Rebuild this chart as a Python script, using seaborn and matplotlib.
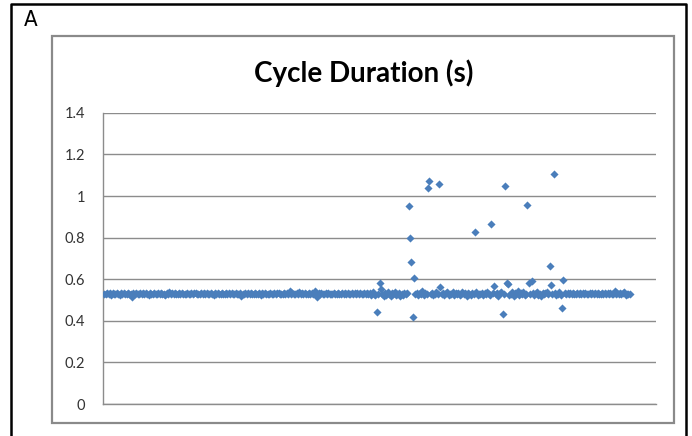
import matplotlib
matplotlib.use("Agg")
import matplotlib.pyplot as plt
import seaborn as sns
import pandas as pd
from matplotlib.patches import Rectangle
from matplotlib.lines import Line2D

# Cycle durations in milliseconds, one per cycle
cycle_ms = [
    531, 527, 534, 529, 532, 526, 535, 530, 528, 533, 531, 525, 536, 529, 532, 530, 527, 534, 531, 528,
    515, 533, 530, 536, 528, 531, 534, 527, 532, 529, 535, 530, 526, 533, 531, 528, 534, 530, 527, 532,
    530, 535, 528, 531, 526, 533, 530, 537, 529, 532, 528, 534, 531, 527, 533, 530, 535, 529, 531, 528,
    533, 530, 527, 534, 529, 532, 536, 528, 531, 530, 534, 527, 532, 529, 535, 531, 528, 533, 530, 526,
    532, 529, 535, 530, 528, 533, 531, 527, 534, 530, 532, 528, 536, 529, 531, 533, 527, 530, 534, 520,
    531, 528, 533, 530, 535, 527, 532, 529, 531, 534, 528, 530, 533, 526, 532, 530, 535, 529, 531, 528,
    534, 530, 527, 533, 529, 532, 536, 528, 531, 530, 533, 527, 534, 530, 541, 529, 532, 528, 531, 534,
    530, 537, 528, 532, 529, 534, 531, 527, 533, 530, 535, 529, 543, 531, 516, 532, 529, 534, 530, 528,
    533, 530, 536, 528, 531, 529, 534, 530, 527, 533, 531, 528, 535, 530, 532, 529, 534, 531, 527, 533,
    530, 535, 528, 532, 529, 533, 527, 531, 534, 530, 536, 528, 532, 522, 538, 530, 524, 444, 531, 583,
    554, 528, 519, 536, 525, 540, 530, 521, 534, 527, 538, 523, 531, 536, 520, 529, 524, 533, 527, 535,
    951, 800, 683, 416, 607, 530, 536, 524, 532, 528, 541, 526, 533, 529, 1040, 1070, 527, 535, 522, 531,
    538, 527, 1056, 564, 529, 536, 523, 533, 540, 526, 531, 528, 537, 522, 532, 529, 535, 525, 530, 538,
    527, 533, 521, 536, 530, 525, 534, 529, 827, 540, 524, 531, 528, 535, 522, 533, 527, 538, 530, 525,
    865, 532, 569, 527, 536, 521, 533, 540, 435, 528, 1050, 583, 575, 524, 531, 537, 520, 534, 528, 541,
    525, 533, 529, 538, 522, 531, 956, 580, 527, 590, 535, 524, 532, 539, 526, 530, 521, 536, 529, 533,
    540, 527, 664, 573, 531, 1104, 535, 522, 530, 537, 526, 463, 597, 533, 528, 536, 530, 534, 527, 532,
    531, 529, 535, 530, 533, 528, 532, 530, 534, 529, 531, 533, 528, 535, 530, 532, 529, 534, 531, 528,
    533, 530, 536, 529, 532, 528, 535, 531, 529, 541, 527, 533, 530, 536, 528, 532, 538, 526, 531, 529,
    530,
]
cycle_index = list(range(1, len(cycle_ms) + 1))
y_ticks = [0, 0.2, 0.4, 0.6, 0.8, 1.0, 1.2, 1.4]
y_tick_labels = ["0", "0.2", "0.4", "0.6", "0.8", "1", "1.2", "1.4"]
chart_title = "Cycle Duration (s)"
panel_label = "A"

sns.set_theme(style="white")
plt.rcParams['font.family'] = ['Lato', 'DejaVu Sans']

W, H = 692, 436
fig = plt.figure(figsize=(W / 100, H / 100), dpi=100)

def fx(px):
    return px / W

def fy(py):
    return 1 - py / H

# plot area
x0, x1, y0, y1 = 103, 656, 404, 112.8
ax = fig.add_axes([fx(x0), fy(y0), fx(x1) - fx(x0), fy(y1) - fy(y0)])

df = pd.DataFrame({"cycle": cycle_index, "duration": [v / 1000 for v in cycle_ms]})
sns.scatterplot(data=df, x="cycle", y="duration", marker="D", s=17,
                color="#4A7EBB", edgecolor="#4A7EBB", linewidth=0, ax=ax, zorder=3)

ax.set_xlim(0, 400)
ax.set_ylim(0, 1.4)
ax.set_yticks(y_ticks)
ax.set_yticklabels(y_tick_labels)
ax.set_xticks([])
ax.set_xlabel("")
ax.set_ylabel("")
ax.grid(axis="y", color="#8c8c8c", linewidth=1.0)
ax.set_axisbelow(True)
for s in ["top", "right"]:
    ax.spines[s].set_visible(False)
for s in ["left", "bottom"]:
    ax.spines[s].set_color("#8c8c8c")
    ax.spines[s].set_linewidth(1.0)
ax.tick_params(axis="y", length=0, pad=13, labelsize=10.5, labelcolor="#333333")
ax.patch.set_alpha(0)

# chart frame (gray)
fig.add_artist(Rectangle((fx(52), fy(423)), fx(674) - fx(52), fy(36.5) - fy(423),
                         transform=fig.transFigure, fill=False, edgecolor="#8a8a8a", linewidth=1.6))
# outer black bracket
fig.add_artist(Line2D([fx(11), fx(11), fx(686), fx(686)], [fy(436), fy(4.5), fy(4.5), fy(436)],
                      transform=fig.transFigure, color="black", linewidth=1.8))

fig.text(fx(364), fy(73), chart_title, ha="center", va="center", fontsize=20, fontweight="bold", color="black")
fig.text(fx(31), fy(20), panel_label, ha="center", va="center", fontsize=16, color="black",
         family=["DejaVu Sans"], stretch="condensed")

fig.savefig("out.png", dpi=100)
